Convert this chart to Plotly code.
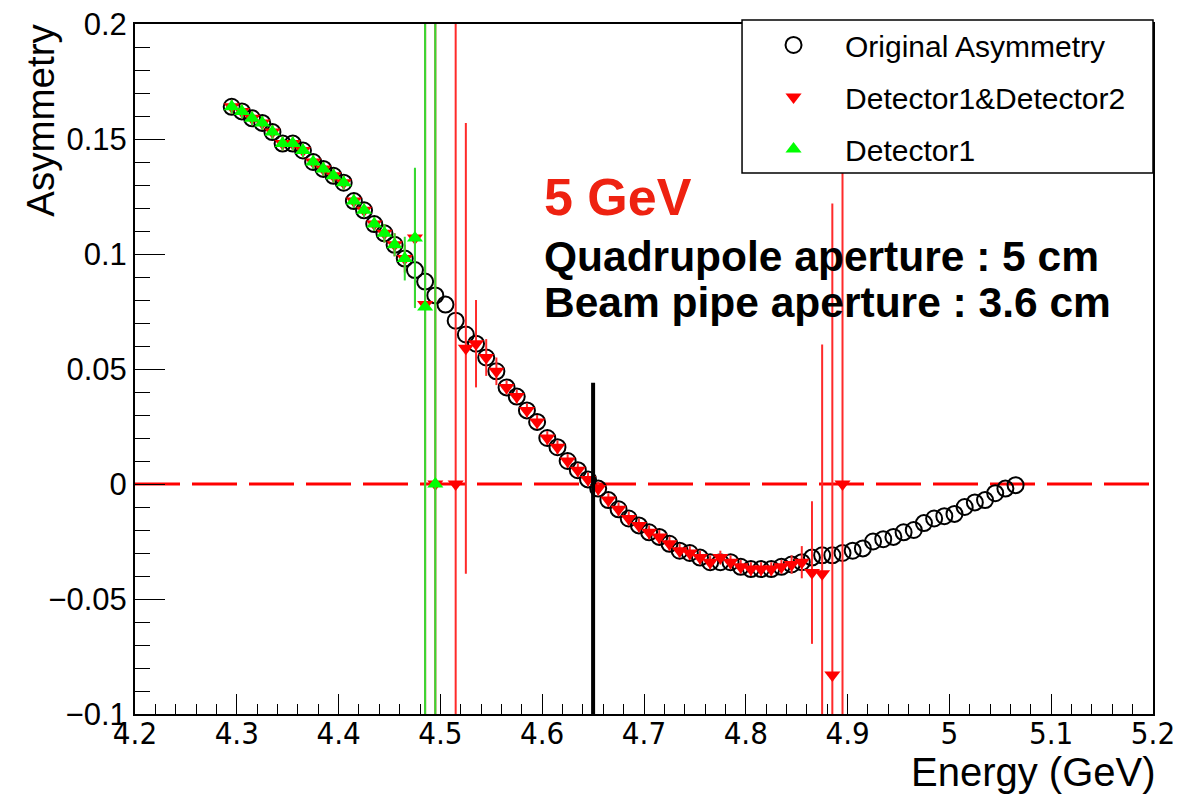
import plotly.graph_objects as go

# ---------------- data ----------------
energy = [4.295, 4.305, 4.315, 4.325, 4.335, 4.345, 4.355, 4.365, 4.375, 4.385,
          4.395, 4.405, 4.415, 4.425, 4.435, 4.445, 4.455, 4.465, 4.475, 4.485,
          4.495, 4.505, 4.515, 4.525, 4.535, 4.545, 4.555, 4.565, 4.575, 4.585,
          4.595, 4.605, 4.615, 4.625, 4.635, 4.645, 4.655, 4.665, 4.675, 4.685,
          4.695, 4.705, 4.715, 4.725, 4.735, 4.745, 4.755, 4.765, 4.775, 4.785,
          4.795, 4.805, 4.815, 4.825, 4.835, 4.845, 4.855, 4.865, 4.875, 4.885,
          4.895, 4.905, 4.915, 4.925, 4.935, 4.945, 4.955, 4.965, 4.975, 4.985,
          4.995, 5.005, 5.015, 5.025, 5.035, 5.045, 5.055, 5.065]
asym_original = [0.164, 0.162, 0.159, 0.157, 0.153, 0.148, 0.148, 0.145, 0.140, 0.137,
                 0.134, 0.131, 0.123, 0.119, 0.113, 0.109, 0.104, 0.098, 0.093, 0.088,
                 0.082, 0.078, 0.071, 0.065, 0.061, 0.055, 0.049, 0.042, 0.038, 0.032,
                 0.027, 0.020, 0.016, 0.010, 0.006, 0.002, -0.002, -0.007, -0.011, -0.015,
                 -0.018, -0.021, -0.023, -0.026, -0.029, -0.030, -0.032, -0.034, -0.034, -0.034,
                 -0.036, -0.037, -0.037, -0.037, -0.036, -0.035, -0.034, -0.032, -0.031, -0.031,
                 -0.030, -0.029, -0.028, -0.025, -0.024, -0.023, -0.021, -0.020, -0.017, -0.015,
                 -0.014, -0.013, -0.010, -0.008, -0.007, -0.004, -0.002, -0.0005]

det12_energy = [4.295, 4.305, 4.315, 4.325, 4.335, 4.345, 4.355, 4.365, 4.375, 4.385,
                4.395, 4.405, 4.415, 4.425, 4.435, 4.445, 4.455, 4.465, 4.475, 4.485,
                4.495, 4.515, 4.525, 4.535, 4.545, 4.555, 4.565, 4.575, 4.585, 4.595,
                4.605, 4.615, 4.625, 4.635, 4.645, 4.655, 4.665, 4.675, 4.685, 4.695,
                4.705, 4.715, 4.725, 4.735, 4.745, 4.755, 4.765, 4.775, 4.785, 4.795,
                4.805, 4.815, 4.825, 4.835, 4.845, 4.855, 4.865, 4.875, 4.885, 4.895]
det12_asym = [0.164, 0.162, 0.159, 0.157, 0.153, 0.148, 0.148, 0.145, 0.140, 0.137,
              0.134, 0.131, 0.123, 0.119, 0.113, 0.109, 0.104, 0.098, 0.107, 0.078,
              0.0, 0.0, 0.059, 0.061, 0.055, 0.049, 0.042, 0.038, 0.032, 0.027,
              0.020, 0.016, 0.010, 0.006, 0.002, -0.002, -0.007, -0.011, -0.015, -0.018,
              -0.021, -0.023, -0.026, -0.029, -0.030, -0.032, -0.034, -0.032, -0.034, -0.036,
              -0.037, -0.037, -0.037, -0.036, -0.035, -0.034, -0.0385, -0.039, -0.083, 0.0]
det12_err = [0.003, 0.003, 0.003, 0.003, 0.003, 0.003, 0.003, 0.003, 0.003, 0.003,
             0.003, 0.003, 0.003, 0.003, 0.003, 0.004, 0.005, 0.006, 0.03, 0.5,
             0.5, 0.5, 0.098, 0.019, 0.008, 0.006, 0.003, 0.003, 0.003, 0.003,
             0.003, 0.003, 0.003, 0.003, 0.003, 0.003, 0.003, 0.003, 0.003, 0.003,
             0.003, 0.003, 0.003, 0.003, 0.003, 0.003, 0.003, 0.003, 0.003, 0.003,
             0.003, 0.003, 0.003, 0.003, 0.004, 0.007, 0.031, 0.0996, 0.205, 0.5]

det1_energy = [4.295, 4.305, 4.315, 4.325, 4.335, 4.345, 4.355, 4.365, 4.375, 4.385,
               4.395, 4.405, 4.415, 4.425, 4.435, 4.445, 4.455, 4.465, 4.475, 4.485,
               4.495]
det1_asym = [0.164, 0.162, 0.159, 0.157, 0.153, 0.148, 0.148, 0.145, 0.140, 0.137,
             0.134, 0.131, 0.123, 0.119, 0.113, 0.109, 0.104, 0.098, 0.107, 0.077,
             0.0]
det1_err = [0.003, 0.003, 0.003, 0.003, 0.003, 0.003, 0.003, 0.003, 0.003, 0.003,
            0.003, 0.003, 0.003, 0.003, 0.003, 0.004, 0.005, 0.0095, 0.0305, 0.5,
            0.5]

x_tickvals = [4.2, 4.3, 4.4, 4.5, 4.6, 4.7, 4.8, 4.9, 5.0, 5.1, 5.2]
x_ticktext = ["4.2", "4.3", "4.4", "4.5", "4.6", "4.7", "4.8", "4.9", "5", "5.1", "5.2"]
y_tickvals = [-0.1, -0.05, 0, 0.05, 0.1, 0.15, 0.2]
y_ticktext = ["\u22120.1", "\u22120.05", "0", "0.05", "0.1", "0.15", "0.2"]

cut_energy = 4.65
cut_top = 0.044
x_range = [4.2, 5.2]
y_range = [-0.1, 0.2]

FONT = "Liberation Sans, Arial, Helvetica, sans-serif"
NARROW = "Liberation Sans Narrow, DejaVu Sans Condensed, Arial, sans-serif"

fig = go.Figure()

fig.add_trace(go.Scatter(
    x=energy, y=asym_original, mode="markers", name="Original Asymmetry",
    legendgroup="a",
    marker=dict(symbol="circle-open", size=16, color="black", line=dict(width=2, color="black")),
))
fig.add_trace(go.Scatter(
    x=det12_energy, y=det12_asym, mode="markers", name="Detector1&Detector2",
    legendgroup="b",
    marker=dict(symbol="triangle-down", size=14, color="#ff0000"),
    error_y=dict(type="data", array=det12_err, visible=True, color="#ff2a2a", thickness=2, width=0),
))
fig.add_trace(go.Scatter(
    x=det1_energy, y=det1_asym, mode="markers", name="Detector1",
    legendgroup="c",
    marker=dict(symbol="triangle-up", size=14, color="#00ff00"),
    error_y=dict(type="data", array=det1_err, visible=True, color="#33dd33", thickness=2, width=0),
))

# dashed zero line
fig.add_shape(type="line", xref="x", yref="y", x0=x_range[0], x1=x_range[1], y0=0, y1=0,
              line=dict(color="#ff0000", width=3, dash="45px,12px"), layer="below")
# vertical cut line
fig.add_shape(type="line", xref="x", yref="y", x0=cut_energy, x1=cut_energy, y0=y_range[0], y1=cut_top,
              line=dict(color="black", width=4), layer="above")
# legend box
fig.add_shape(type="rect", xref="paper", yref="paper", x0=0.5963, x1=1.0, y0=0.784, y1=1.0058,
              line=dict(color="black", width=1.5), fillcolor="white", layer="above")

fig.add_annotation(x=4.600, y=0.1248, xref="x", yref="y", text="<b>5 GeV</b>", showarrow=False,
                   xanchor="left", yanchor="middle", font=dict(family=FONT, size=52, color="#ee2211"))
fig.add_annotation(x=4.600, y=0.0991, xref="x", yref="y", text="<b>Quadrupole aperture : 5 cm</b>",
                   showarrow=False, xanchor="left", yanchor="middle",
                   font=dict(family=FONT, size=42.5, color="black"))
fig.add_annotation(x=4.600, y=0.0787, xref="x", yref="y", text="<b>Beam pipe aperture : 3.6 cm</b>",
                   showarrow=False, xanchor="left", yanchor="middle",
                   font=dict(family=FONT, size=42.5, color="black"))

# axis titles
fig.add_annotation(x=-0.093, y=1.003, xref="paper", yref="paper", text="Asymmetry", showarrow=False,
                   textangle=-90, xanchor="center", yanchor="top",
                   font=dict(family=FONT, size=38.5, color="black"))
fig.add_annotation(x=1.005, y=-0.084, xref="paper", yref="paper", text="Energy (GeV)", showarrow=False,
                   xanchor="right", yanchor="middle",
                   font=dict(family=FONT, size=40, color="black"))

fig.update_layout(
    width=1182, height=789,
    margin=dict(l=127, r=37, t=16, b=83, autoexpand=False),
    paper_bgcolor="white", plot_bgcolor="white",
    showlegend=True,
    legend=dict(x=0.5963, y=1.0073, xanchor="left", yanchor="top",
                bgcolor="rgba(0,0,0,0)", borderwidth=0,
                font=dict(family=FONT, size=30, color="black"),
                itemwidth=93, tracegroupgap=10),
    font=dict(family=FONT, color="black"),
)
fig.update_xaxes(range=x_range, showgrid=False, zeroline=False, automargin=False,
                 showline=True, linecolor="black", linewidth=2, mirror=True,
                 ticks="inside", ticklen=20, tickwidth=1, tickcolor="black",
                 tickvals=x_tickvals, ticktext=x_ticktext, ticklabelstandoff=-9,
                 ticklabeloverflow="allow",
                 tickfont=dict(family=NARROW, size=31, color="black"),
                 minor=dict(dtick=0.02, tick0=4.2, ticks="inside", ticklen=10, tickcolor="black", tickwidth=1))
fig.update_yaxes(range=y_range, showgrid=False, zeroline=False, automargin=False,
                 showline=True, linecolor="black", linewidth=2, mirror=True,
                 ticks="inside", ticklen=30, tickwidth=1, tickcolor="black",
                 tickvals=y_tickvals, ticktext=y_ticktext, ticklabeloverflow="allow",
                 tickfont=dict(family=FONT, size=31, color="black"),
                 minor=dict(dtick=0.01, tick0=0, ticks="inside", ticklen=15, tickcolor="black", tickwidth=1))

fig.write_html("out.html")
